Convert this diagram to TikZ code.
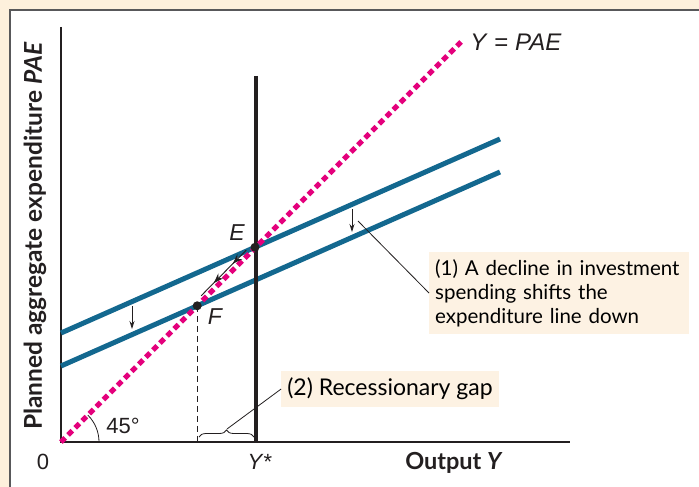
\documentclass[tikz,border=0pt]{standalone}
\usepackage{fontspec}
\setmainfont{Liberation Sans}
\newfontfamily\gill{Lato}
\usetikzlibrary{positioning,arrows.meta,calc,decorations.pathreplacing,decorations.markings}
\definecolor{cream}{HTML}{FDF0DC}
\definecolor{notefill}{HTML}{FDF2E3}
\definecolor{frame}{HTML}{58585A}
\definecolor{pae}{HTML}{E4007C}
\definecolor{spend}{HTML}{13688F}
\definecolor{ink}{HTML}{231F20}

\begin{document}
\begin{tikzpicture}[x=1pt, y=-1pt, >={Stealth[length=8pt,width=5pt]},
    note/.style={fill=notefill, font=\gill\fontsize{20.5}{24}\selectfont, align=left, inner xsep=6pt, inner ysep=5pt},
    lbl/.style={font=\fontsize{22}{24}\selectfont, text=ink},
    dot/.style={circle, fill=ink, inner sep=0pt, minimum size=9pt}]
    \useasboundingbox (0,0) rectangle (699,487);
    \fill[cream] (0,0) rectangle (699,487);
    \filldraw[fill=white, draw=frame, line width=1.6pt] (10,10) rectangle (712,500);
    % axes
    \coordinate (O) at (61,442);
    \coordinate (ytop) at (61,27);
    \coordinate (xend) at (570,442);
    \draw[ink, line width=1.2pt] (ytop) -- (O) -- (xend);
    \draw[ink, line width=0.8pt] (99,442) arc[start angle=0, end angle=-45, radius=38];
    % expenditure lines
    \coordinate (E) at (255,247.3);
    \coordinate (F) at (197.2,305.8);
    \draw[spend, line width=5pt] (61,333) -- (500,139);
    \draw[spend, line width=5pt] (61,366) -- (500,172);
    % potential output
    \draw[ink, line width=4.2pt] (256,76) -- (256,442);
    \draw[ink, line width=0.8pt, dash pattern=on 6pt off 4pt] (F) -- (F |- O);
    % 45 degree line
    \coordinate (top45) at (461,42);
    \draw[pae, line width=5pt, dash pattern=on 6pt off 4pt] (O) -- (top45);
    % shift from E to F
    \draw[ink, line width=0.9pt, postaction={decorate},
      decoration={markings, mark=at position 0.3 with {\arrow{Stealth[length=10pt,width=7pt]}},
        mark=at position 0.72 with {\arrow{Stealth[length=10pt,width=7pt]}}}]
      ($(E)!0.1!(F)+(-3,-3)$) -- ($(F)!0.12!(E)+(-3,-3)$);
    \node[dot] (dotE) at (E) {};
    \node[dot] (dotF) at (F) {};
    % shift arrows
    \coordinate (s1a) at (352,209); \coordinate (s1b) at (352,232);
    \coordinate (s2a) at (132,306); \coordinate (s2b) at (132,329);
    \draw[->, ink, line width=0.8pt] (s1a) -- (s1b);
    \draw[->, ink, line width=0.8pt] (s2a) -- (s2b);
    % gap brace
    \coordinate (gapL) at (199,437);
    \coordinate (gapR) at (254,437);
    \draw[ink, line width=0.8pt, decorate, decoration={brace, amplitude=7pt}] (gapL) -- (gapR);
    \coordinate (gaptip) at (227,429);
    \coordinate (shifttip) at (358,221);
    % labels
    \node[lbl, font=\fontsize{23}{24}\selectfont\itshape] (lblE) at (237,233) {E};
    \node[lbl, font=\fontsize{23}{24}\selectfont\itshape] (lblF) at (215,317) {F};
    \node[lbl] (lbl45) at (123,426) {45°};
    \node[lbl] (lbl0) at (43,462) {0};
    \node[lbl] (lblYs) at (260,462) {\textit{Y}*};
    \node[lbl, font=\fontsize{24}{24}\selectfont] (lblpae) at (516,42) {\textit{Y} = \textit{PAE}};
    \node[font=\gill\fontsize{23.5}{24}\selectfont\bfseries, text=ink] (xlabel) at (454,463) {Output \textit{Y}};
    \node[font=\gill\fontsize{24.5}{24}\selectfont\bfseries, text=ink, rotate=90] (ylabel) at (35,236) {Planned aggregate expenditure \textit{PAE}};
    \node[note, anchor=west, text width=248pt, minimum height=82pt] (note1) at (429,293) {(1) A decline in investment\\spending shifts the\\expenditure line down};
    \node[note, font=\gill\fontsize{23}{24}\selectfont, minimum height=36pt] (note2) at (390,389) {(2) Recessionary gap};
    \draw[ink, line width=0.8pt] (shifttip) -- (note1.west);
    \draw[ink, line width=0.8pt] (gaptip) -- (note2.west);
\end{tikzpicture}
\end{document}
